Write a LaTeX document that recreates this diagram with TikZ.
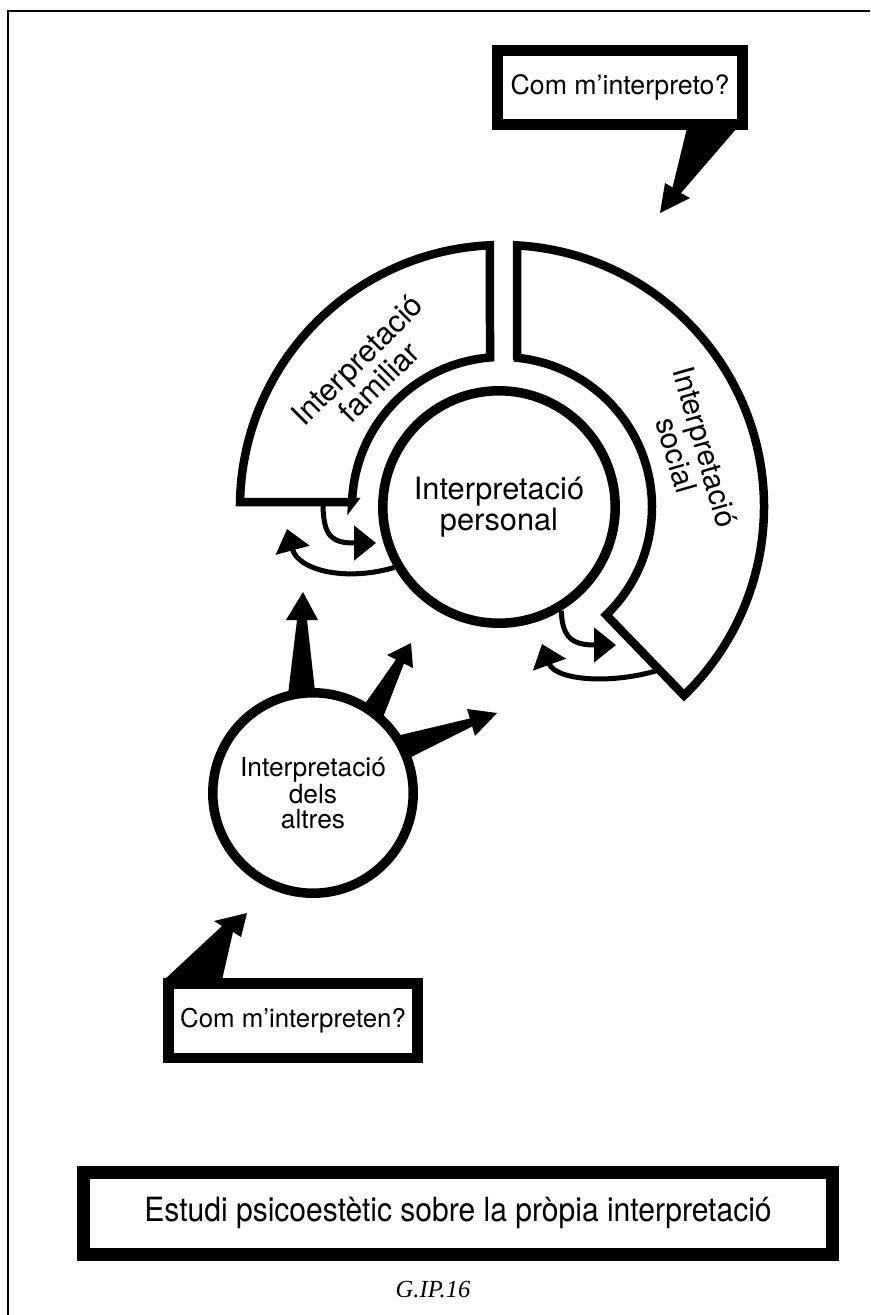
\documentclass[tikz,border=0pt]{standalone}
\usepackage{fontspec}
\setmainfont{TeX Gyre Heros}
\newfontfamily\condfont[FakeStretch=0.9]{TeX Gyre Heros}
\newfontfamily\serifit{Liberation Serif}
\usetikzlibrary{arrows.meta}
\begin{document}
\begin{tikzpicture}[x=0.02cm,y=-0.02cm,
  ringseg/.style={draw=black, fill=white, line width=0.17cm, line join=miter},
  disc/.style={circle, draw=black, fill=white, line width=0.19cm, inner sep=0pt, align=center},
  qbox/.style={draw=black, fill=white, line width=0.21cm, inner sep=0pt, align=center},
  wedge/.style={fill=black, draw=none},
  bendarrow/.style={line width=0.1cm, -{Triangle[length=0.44cm,width=0.68cm]}},
  lbl/.style={align=center, inner sep=0pt}]
\useasboundingbox (0,0) rectangle (870,1315);

% page frame (top and left)
\draw[line width=0.05cm] (870,11) -- (8,11) -- (8,1315);

% named points
\coordinate (topTip) at (660,213);
\coordinate (botTip) at (247,913);
\coordinate (famfoot) at (323,503);
\coordinate (aTip) at (376,543);
\coordinate (bTip) at (287,529);
\coordinate (cTip) at (616,645);
\coordinate (socfoot) at (659,670);
\coordinate (dTip) at (542,644);
\coordinate (upTip) at (303,592);
\coordinate (diagTip) at (411,643);
\coordinate (rightTip) at (497,713);

% callout wedges
\fill[wedge] (687,128) -- (672.5,187.5) -- (665,183) -- (topTip) -- (690,198) -- (681,193) -- (737,128) -- cycle;
\fill[wedge] (164,980) -- (222,926) -- (214,921) -- (botTip) -- (241,937) -- (233,932) -- (222,980) -- cycle;

% big arrows from "dels altres"
\fill[wedge] (287,703) -- (297,620) -- (286,620) -- (upTip) -- (318,620) -- (307,620) -- (316,700) -- cycle;
\fill[wedge] (362,708) -- (396,659.5) -- (387,655) -- (diagTip) -- (413,668) -- (404,663.5) -- (382,720) -- cycle;
\fill[wedge] (392,737) -- (469.8,718.5) -- (467,709) -- (rightTip) -- (475,736) -- (472.2,726.5) -- (405,760) -- cycle;

% ring segments
\draw[ringseg] (352.1,502) -- (240.05,502)
   arc[start angle=181.09, end angle=267.37, radius=262]
   -- (490,357.5)
   arc[start angle=265.41, end angle=181.91, radius=150] -- cycle;
\draw[ringseg] (517,357.75) -- (517,245.4)
   arc[start angle=273.28, end angle=406, radius=262]
   -- (606.2,614.9)
   arc[start angle=406, end angle=275.74, radius=150] -- cycle;

% circles
\node[disc, minimum size=4.65cm, font=\fontsize{17.5}{15}\selectfont] (pers) at (499,507) {Interpretació\\personal};
\node[disc, minimum size=4.01cm, font=\fontsize{15}{14.2}\selectfont] (altres) at (313,793) {Interpretació\\dels\\altres};

% ring labels
\node[lbl, rotate=45, font=\fontsize{17.5}{16.5}\selectfont] (famtxt) at (368,371) {Interpretació\\familiar};
\node[lbl, rotate=-74, font=\fontsize{17}{17}\selectfont] (soctxt) at (691,451) {Interpretació\\social};

% small curved arrows
\draw[bendarrow] (famfoot) .. controls (323,538) and (333,543) .. (aTip);
\draw[bendarrow] (pers.210) .. controls (345,582) and (298,570) .. (bTip);
\draw[bendarrow] (pers.-59) .. controls (562,640) and (575,645) .. (cTip);
\draw[bendarrow] (socfoot) .. controls (610,685) and (555,680) .. (dTip);

% boxes
\node[qbox, minimum width=4.91cm, minimum height=1.49cm, font=\fontsize{15.2}{18}\selectfont] (topq) at (620,87.5) {Com m’interpreto?};
\node[qbox, minimum width=4.99cm, minimum height=1.49cm, font=\fontsize{14.7}{18}\selectfont] (botq) at (293,1020.5) {Com m’interpreten?};
\node[qbox, line width=0.26cm, minimum width=14.99cm, minimum height=1.64cm, font=\condfont\fontsize{19}{21}\selectfont] (title) at (458,1213) {Estudi psicoestètic sobre la pròpia interpretació};

% code
\node[font=\serifit\itshape\fontsize{14}{16}\selectfont, anchor=base, inner sep=0pt] (code) at (433,1297) {G.IP.16};
\end{tikzpicture}
\end{document}
